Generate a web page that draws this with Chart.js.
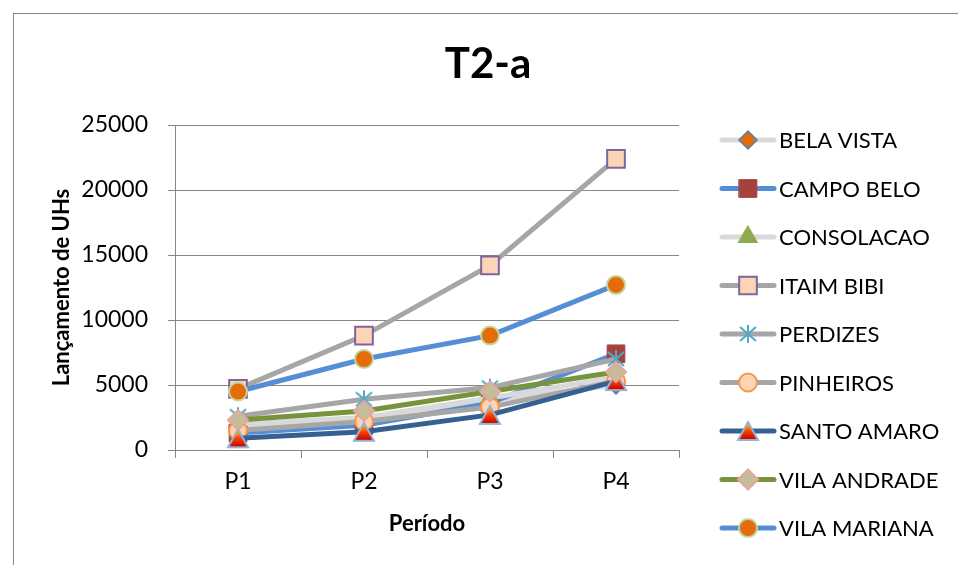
<!DOCTYPE html>
<html>
<head>
<meta charset="utf-8">
<script src="https://cdn.jsdelivr.net/npm/chart.js@4.4.1/dist/chart.umd.min.js"></script>
<style>
  html, body { margin: 0; padding: 0; background: #fff; }
  #wrap { width: 958px; height: 565px; position: relative; }
</style>
</head>
<body>
<div id="wrap"><canvas id="grafico" width="958" height="565"></canvas></div>
<script>
// Dados do gráfico
const periodos = ['P1', 'P2', 'P3', 'P4'];
const bairros = ['BELA VISTA', 'CAMPO BELO', 'CONSOLACAO', 'ITAIM BIBI', 'PERDIZES',
                 'PINHEIROS', 'SANTO AMARO', 'VILA ANDRADE', 'VILA MARIANA'];

const belaVista   = [1800, 2300, 3800, 5000];
const campoBelo   = [1300, 1900, 3600, 7400];
const consolacao  = [2000, 2500, 4000, 5600];
const itaimBibi   = [4700, 8800, 14200, 22400];
const perdizes    = [2600, 3900, 4800, 7000];
const pinheiros   = [1500, 2200, 3300, 5300];
const santoAmaro  = [900, 1400, 2700, 5300];
const vilaAndrade = [2300, 3000, 4500, 6000];
const vilaMariana = [4500, 7000, 8800, 12700];

const yTicks = [0, 5000, 10000, 15000, 20000, 25000];

const FONTE = 'Lato, "Liberation Sans", sans-serif';

// Marcador "asterisco" (X + traço vertical)
function criarAsterisco(cor) {
    const c = document.createElement('canvas');
    c.width = 22; c.height = 22;
    const g = c.getContext('2d');
    g.strokeStyle = cor;
    g.lineWidth = 2;
    g.beginPath();
    g.moveTo(11, 2); g.lineTo(11, 20);
    g.moveTo(3, 4); g.lineTo(19, 18);
    g.moveTo(19, 4); g.lineTo(3, 18);
    g.stroke();
    return c;
}

// Triângulo com degradê amarelo -> vermelho
function criarTriangulo() {
    const c = document.createElement('canvas');
    c.width = 24; c.height = 22;
    const g = c.getContext('2d');
    const grad = g.createLinearGradient(0, 2, 0, 20);
    grad.addColorStop(0, '#FFE000');
    grad.addColorStop(0.5, '#FF4000');
    grad.addColorStop(1, '#C00000');
    g.beginPath();
    g.moveTo(12, 2); g.lineTo(22, 20); g.lineTo(2, 20); g.closePath();
    g.fillStyle = grad;
    g.fill();
    g.strokeStyle = '#95B3D7';
    g.lineWidth = 2;
    g.stroke();
    return c;
}

const estilos = [
    { data: belaVista,   line: '#D9D9D9', fill: '#E36C09', border: '#4F81BD', style: 'rectRot',  r: 9,  bw: 1.5 },
    { data: campoBelo,   line: '#558ED5', fill: '#A5423E', border: '#A5423E', style: 'rect',     r: 12.5, bw: 1 },
    { data: consolacao,  line: '#D9D9D9', fill: '#8EAA4E', border: '#8EAA4E', style: 'triangle', r: 11, bw: 1 },
    { data: itaimBibi,   line: '#A6A6A6', fill: '#FBD5B5', border: '#8064A2', style: 'rect',     r: 12.5, bw: 2 },
    { data: perdizes,    line: '#A6A6A6', fill: '#4BACC6', border: '#4BACC6', style: criarAsterisco('#4BACC6'), r: 10, bw: 2 },
    { data: pinheiros,   line: '#A6A6A6', fill: '#FBD5B5', border: '#F79646', style: 'circle',   r: 9,  bw: 2 },
    { data: santoAmaro,  line: '#376092', fill: '#FF4000', border: '#95B3D7', style: criarTriangulo(), r: 11, bw: 2 },
    { data: vilaAndrade, line: '#77933C', fill: '#C4BD97', border: '#E6A5A0', style: 'rectRot',  r: 10, bw: 2 },
    { data: vilaMariana, line: '#558ED5', fill: '#E46C0A', border: '#C3D69B', style: 'circle',   r: 9,  bw: 2 }
];

const datasets = estilos.map((e, i) => ({
    label: bairros[i],
    data: e.data,
    borderColor: e.line,
    borderWidth: 5,
    pointStyle: e.style,
    pointRadius: e.r,
    pointHoverRadius: e.r,
    pointBackgroundColor: e.fill,
    pointBorderColor: e.border,
    pointBorderWidth: e.bw,
    tension: 0,
    order: estilos.length - i
}));

// Moldura externa e título
const moldura = {
    id: 'moldura',
    afterDraw(chart) {
        const ctx = chart.ctx;
        ctx.save();
        ctx.strokeStyle = '#868686';
        ctx.lineWidth = 1;
        ctx.strokeRect(13.5, 13.5, 1000, 600);
        ctx.fillStyle = '#000';
        ctx.font = 'bold 42px ' + FONTE;
        ctx.textAlign = 'center';
        ctx.textBaseline = 'middle';
        ctx.fillText('T2-a', 488, 64);
        ctx.restore();
    }
};

// Legenda desenhada com linha + marcador
const legendaLinhas = {
    id: 'legendaLinhas',
    afterDraw(chart) {
        const ctx = chart.ctx;
        ctx.save();
        estilos.forEach((e, i) => {
            const y = 140 + i * 48.5;
            ctx.strokeStyle = e.line;
            ctx.lineWidth = 5;
            ctx.lineCap = 'round';
            ctx.beginPath();
            ctx.moveTo(722, y);
            ctx.lineTo(774, y);
            ctx.stroke();
            ctx.fillStyle = e.fill;
            ctx.strokeStyle = e.border;
            ctx.lineWidth = e.bw;
            Chart.helpers.drawPoint(ctx, { pointStyle: e.style, radius: e.r, borderWidth: e.bw }, 748, y);
            ctx.fillStyle = '#000';
            ctx.font = '22px ' + FONTE;
            ctx.textBaseline = 'middle';
            ctx.textAlign = 'left';
            ctx.fillText(bairros[i], 779, y + 1);
        });
        ctx.restore();
    }
};

new Chart(document.getElementById('grafico'), {
    type: 'line',
    data: { labels: periodos, datasets },
    plugins: [moldura, legendaLinhas],
    options: {
        responsive: false,
        animation: false,
        layout: { padding: { left: 13, top: 125, right: 279, bottom: 15 } },
        plugins: {
            legend: { display: false },
            tooltip: { enabled: false },
            title: { display: false }
        },
        scales: {
            x: {
                offset: true,
                grid: { display: true, drawOnChartArea: false, offset: true, color: '#868686', tickLength: 8 },
                border: { color: '#868686', width: 1 },
                ticks: { color: '#000', font: { family: FONTE, size: 23 }, padding: 10 },
                title: { display: true, text: 'Período', color: '#000', font: { family: FONTE, size: 22, weight: 'bold' }, padding: { top: 0, bottom: 13 } },
                afterFit(scale) { scale.height = 100; }
            },
            y: {
                min: 0,
                max: 25000,
                afterBuildTicks(scale) { scale.ticks = yTicks.map(v => ({ value: v })); },
                grid: { color: '#868686', tickLength: 7 },
                border: { color: '#868686', width: 1 },
                ticks: { color: '#000', font: { family: FONTE, size: 23 }, padding: 20, callback: v => String(v) },
                title: { display: true, text: 'Lançamento de UHs', color: '#000', font: { family: FONTE, size: 22, weight: 'bold' }, padding: { top: 36, bottom: 0 } },
                afterFit(scale) { scale.width = 162; }
            }
        }
    }
});
</script>
</body>
</html>
